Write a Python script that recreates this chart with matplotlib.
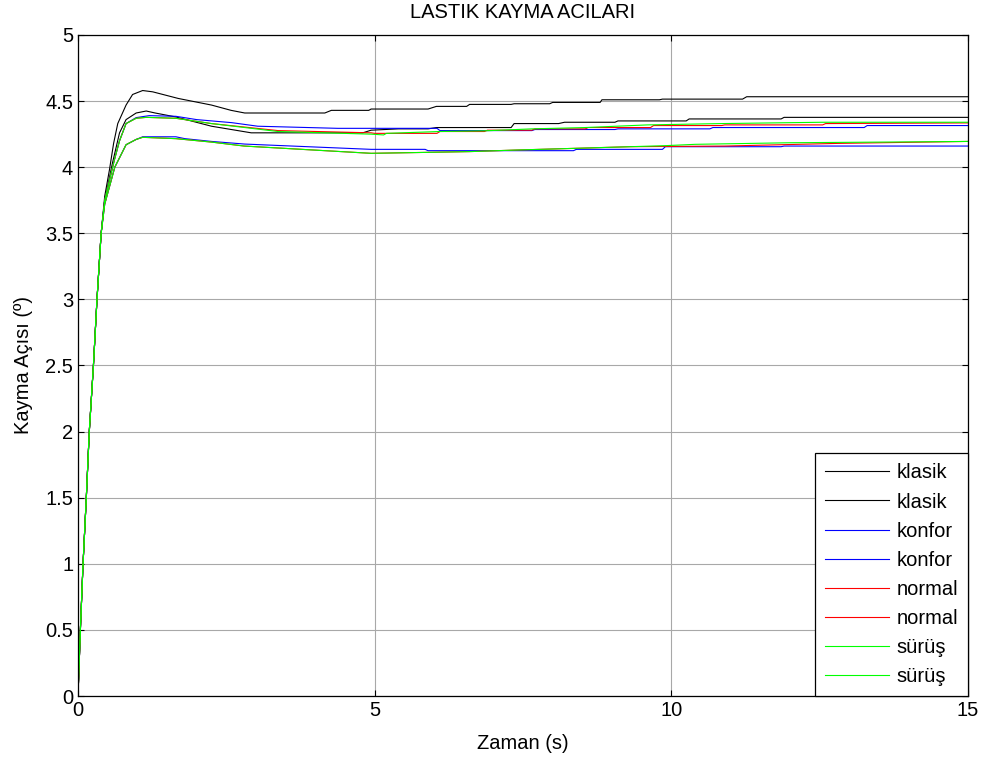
import matplotlib
matplotlib.use("Agg")
import matplotlib.pyplot as plt

plt.rcParams['font.family'] = ['Liberation Sans', 'DejaVu Sans']

# ---- data (time in s, slip angle in degrees) ----
rise_t = [0.0, 0.04, 0.085, 0.14, 0.19, 0.26, 0.32, 0.39]
rise_y = [0.0, 0.50, 1.00, 1.50, 2.00, 2.50, 3.00, 3.50]

klasik1_t = [0.45, 0.53, 0.60, 0.67, 0.81, 0.92, 1.09, 1.26, 1.69, 2.25, 2.58, 2.81, 4.16, 4.27, 4.90, 4.94,
             5.90, 6.04, 6.55, 6.60, 7.30, 7.35, 7.95, 8.00, 8.80, 8.83, 9.80, 9.85, 11.20, 11.27, 15.0]
klasik1_y = [3.78, 3.98, 4.18, 4.33, 4.47, 4.55, 4.58, 4.57, 4.52, 4.47, 4.43, 4.41, 4.41, 4.43, 4.43, 4.44,
             4.44, 4.46, 4.46, 4.475, 4.475, 4.48, 4.48, 4.49, 4.49, 4.51, 4.51, 4.515, 4.515, 4.533, 4.533]

klasik2_t = [0.45, 0.58, 0.70, 0.81, 0.98, 1.15, 1.30, 1.65, 2.25, 2.92, 4.80, 4.94, 5.40, 5.90, 6.04, 7.30,
             7.35, 8.10, 8.20, 9.05, 9.10, 10.25, 10.30, 11.85, 11.90, 15.0]
klasik2_y = [3.75, 4.03, 4.26, 4.36, 4.41, 4.425, 4.41, 4.38, 4.31, 4.26, 4.26, 4.28, 4.29, 4.29, 4.30, 4.30,
             4.33, 4.33, 4.34, 4.34, 4.35, 4.35, 4.365, 4.365, 4.377, 4.377]

konfor1_t = [0.45, 0.61, 0.70, 0.81, 0.98, 1.20, 1.65, 2.00, 2.59, 3.03, 4.38, 6.05, 6.10, 7.65, 7.70, 9.05,
             9.10, 10.65, 10.70, 13.25, 13.30, 15.0]
konfor1_y = [3.75, 4.05, 4.20, 4.33, 4.375, 4.39, 4.385, 4.36, 4.337, 4.31, 4.294, 4.294, 4.277, 4.277, 4.285, 4.285,
             4.29, 4.29, 4.30, 4.30, 4.315, 4.315]

konfor2_t = [0.45, 0.62, 0.81, 0.98, 1.09, 1.65, 1.80, 2.25, 2.81, 4.94, 5.85, 5.90, 8.35, 8.40, 9.85, 9.90,
             11.85, 11.90, 15.0]
konfor2_y = [3.72, 4.00, 4.17, 4.21, 4.23, 4.23, 4.216, 4.195, 4.175, 4.135, 4.135, 4.125, 4.125, 4.135, 4.135, 4.155,
             4.155, 4.16, 4.16]

normal1_t = [0.45, 0.61, 0.70, 0.81, 0.98, 1.15, 1.65, 2.25, 3.37, 4.94, 5.00, 6.05, 6.10, 6.85, 6.90, 7.65,
             7.70, 8.55, 8.60, 9.65, 9.70, 10.85, 10.90, 12.55, 12.60, 15.0]
normal1_y = [3.75, 4.05, 4.20, 4.33, 4.37, 4.377, 4.37, 4.33, 4.277, 4.26, 4.256, 4.256, 4.27, 4.27, 4.28, 4.28,
             4.29, 4.29, 4.30, 4.30, 4.315, 4.315, 4.32, 4.32, 4.33, 4.335]

normal2_t = [0.45, 0.62, 0.81, 0.98, 1.09, 1.65, 2.25, 2.80, 4.94, 5.60, 6.60, 7.40, 8.40, 9.30, 10.90, 12.80, 15.0]
normal2_y = [3.72, 4.00, 4.17, 4.21, 4.226, 4.216, 4.19, 4.16, 4.105, 4.11, 4.118, 4.13, 4.143, 4.155, 4.16, 4.18, 4.195]

surus1_t = [0.45, 0.61, 0.70, 0.81, 0.98, 1.15, 1.65, 2.25, 3.37, 4.94, 5.15, 5.20, 6.10, 6.85, 7.65, 8.55,
            9.60, 10.85, 12.55, 15.0]
surus1_y = [3.75, 4.05, 4.20, 4.33, 4.37, 4.377, 4.37, 4.33, 4.27, 4.25, 4.244, 4.256, 4.27, 4.275, 4.29, 4.30,
            4.32, 4.33, 4.34, 4.34]

surus2_t = [0.45, 0.62, 0.81, 0.98, 1.09, 1.65, 2.25, 2.80, 4.94, 5.60, 6.60, 7.40, 8.40, 9.30, 9.90, 10.40,
            12.00, 14.50, 15.0]
surus2_y = [3.72, 4.00, 4.17, 4.21, 4.226, 4.216, 4.19, 4.16, 4.105, 4.11, 4.118, 4.13, 4.143, 4.155, 4.163, 4.173,
            4.185, 4.193, 4.195]

labels = ['klasik', 'klasik', 'konfor', 'konfor', 'normal', 'normal', 'sürüş', 'sürüş']
colors = ['#000000', '#000000', '#0000ff', '#0000ff', '#ff0000', '#ff0000', '#00ff00', '#00ff00']

series_t = [klasik1_t, klasik2_t, konfor1_t, konfor2_t, normal1_t, normal2_t, surus1_t, surus2_t]
series_y = [klasik1_y, klasik2_y, konfor1_y, konfor2_y, normal1_y, normal2_y, surus1_y, surus2_y]

xticks = [0, 5, 10, 15]
yticks = [0, 0.5, 1, 1.5, 2, 2.5, 3, 3.5, 4, 4.5, 5]
yticklabels = ['0', '0.5', '1', '1.5', '2', '2.5', '3', '3.5', '4', '4.5', '5']

fig = plt.figure(figsize=(9.84, 7.6), dpi=100)
ax = fig.add_axes([78/984, 64/760, 890/984, 661/760])

for t, y, lab, c in zip(series_t, series_y, labels, colors):
    ax.plot(rise_t + t, rise_y + y, color=c, lw=0.8, label=lab)

ax.set_xlim(0, 15)
ax.set_ylim(0, 5)
ax.set_xticks(xticks)
ax.set_yticks(yticks)
ax.set_yticklabels(yticklabels)
ax.grid(True, color='#a8a8a8', lw=0.8)
ax.set_axisbelow(True)
ax.tick_params(direction='in', top=True, right=True, length=4, width=0.8,
               labelsize=14.5, colors='black')
for s in ax.spines.values():
    s.set_linewidth(0.9)
    s.set_color('black')

ax.set_title('LASTIK KAYMA ACILARI', fontsize=14.5, pad=12)
ax.set_xlabel('Zaman (s)', fontsize=14.5, labelpad=10)
ax.set_ylabel('Kayma Açısı (º)', fontsize=14.5, labelpad=9)

leg = ax.legend(loc='lower right', borderaxespad=0, fontsize=14.5, frameon=True,
                fancybox=False, edgecolor='black', framealpha=1,
                handlelength=3.2, handletextpad=0.35, labelspacing=0.5,
                borderpad=0.5)
leg.get_frame().set_linewidth(0.9)

fig.savefig('out.png', dpi=100)
